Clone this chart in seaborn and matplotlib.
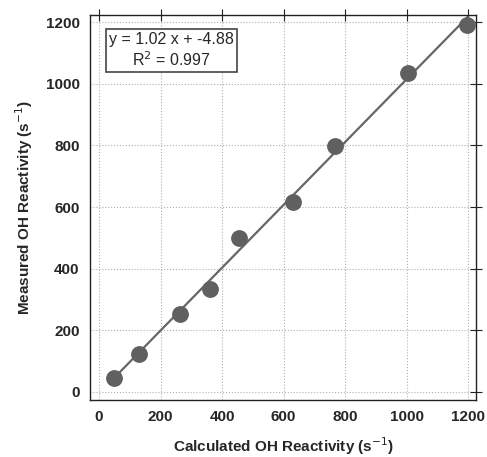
import numpy as np
import pandas as pd
import matplotlib
matplotlib.use("Agg")
import matplotlib.pyplot as plt
import seaborn as sns

sns.set_theme(style="white")
plt.rcParams["font.family"] = ["Liberation Sans", "DejaVu Sans"]

# valori
calcolato = [50, 130, 262, 360, 455, 630, 768, 1005, 1195]
misurato = [45, 122, 253, 335, 498, 615, 797, 1035, 1192]
pendenza = 1.02
intercetta = -4.88
r2 = 0.997

df = pd.DataFrame({"calc": calcolato, "mis": misurato})
fit_x = np.array([45, 1200])
fit = pd.DataFrame({"x": fit_x, "y": pendenza * fit_x + intercetta})

fig = plt.figure(figsize=(4.87, 4.57), dpi=100)
ax = fig.add_axes([0.185, 0.125, 0.793, 0.842])

ax.grid(True, color="#b0b0b0", linestyle=":", linewidth=0.8)
sns.lineplot(data=fit, x="x", y="y", ax=ax, color="#666666", linewidth=1.6)
sns.scatterplot(data=df, x="calc", y="mis", ax=ax, s=125, color="#606060",
                edgecolor="#606060", zorder=3)

ax.set_xlim(-29, 1226)
ax.set_ylim(-26, 1223)
ax.set_xticks(range(0, 1201, 200))
ax.set_yticks(range(0, 1201, 200))
for s in ax.spines.values():
    s.set_color("#222222")
    s.set_linewidth(1.0)
ax.tick_params(direction="inout", length=8, width=0.8, color="#222222",
               top=True, right=True, labelsize=11)
for lab in ax.get_xticklabels() + ax.get_yticklabels():
    lab.set_fontweight("bold")

ax.set_xlabel("Calculated OH Reactivity (s$^{-1}$)", fontsize=11, fontweight="bold", labelpad=8)
ax.set_ylabel("Measured OH Reactivity (s$^{-1}$)", fontsize=11, fontweight="bold", labelpad=8)

ax.text(0.05, 0.955, f"y = {pendenza:.2f} x + {intercetta}\nR$^2$ = {r2}",
        transform=ax.transAxes, ha="left", va="top", fontsize=11.5,
        multialignment="center", linespacing=1.2,
        bbox=dict(boxstyle="square,pad=0.2", facecolor="white", edgecolor="#444444", linewidth=1.2))

fig.savefig("out.png", dpi=100)
